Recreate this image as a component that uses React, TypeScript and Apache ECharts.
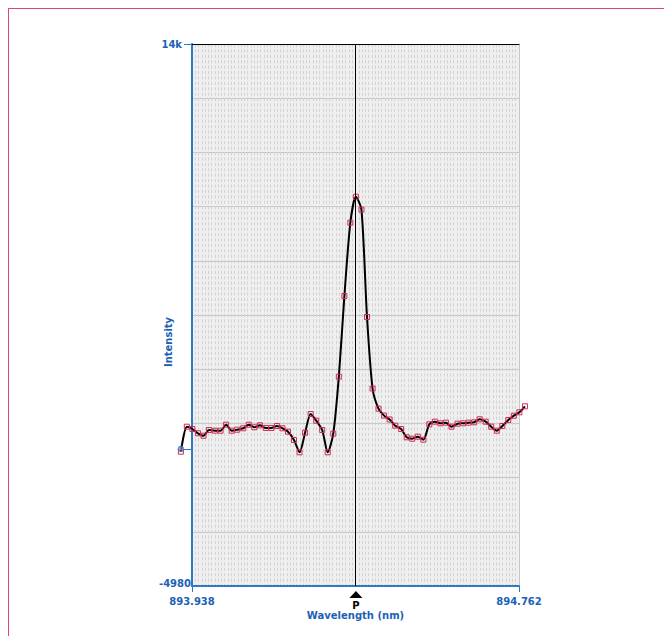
import React, { useEffect, useRef } from "react";
import * as echarts from "echarts";

// Wavelength (nm) of each sample
const wavelengths = [
  893.910, 893.925, 893.939, 893.953, 893.967, 893.981, 893.996, 894.010, 894.024, 894.038,
  894.052, 894.067, 894.081, 894.095, 894.109, 894.124, 894.138, 894.152, 894.166, 894.180,
  894.195, 894.209, 894.223, 894.237, 894.251, 894.266, 894.280, 894.294, 894.308, 894.322,
  894.337, 894.351, 894.365, 894.379, 894.393, 894.408, 894.422, 894.436, 894.450, 894.465,
  894.479, 894.493, 894.507, 894.521, 894.536, 894.550, 894.564, 894.578, 894.592, 894.607,
  894.621, 894.635, 894.649, 894.663, 894.678, 894.692, 894.706, 894.720, 894.735, 894.749,
  894.763, 894.777,
];

// Intensity of each sample
const intensities = [
  -277, 599, 518, 368, 283, 483, 459, 459, 669, 459,
  494, 543, 669, 578, 648, 553, 553, 623, 543, 424,
  133, -298, 389, 1043, 809, 483, -298, 354, 2350, 5175,
  7742, 8653, 8198, 4440, 1936, 1229, 987, 851, 634, 518,
  227, 178, 248, 143, 683, 774, 718, 739, 599, 704,
  718, 739, 753, 858, 774, 599, 459, 623, 833, 984,
  1103, 1313,
];

const xRange = [893.938, 894.762];
const yRange = [-4980, 14000];
const yTickLabels = ["-4980", "14k"];
const peakWavelength = 894.351;
const peakLabel = "P";
const cursorValue = -180;

const BLUE_TEXT = "#1b62b5";
const BLUE_LINE = "#2f78c8";
const FONT = 'Verdana, "DejaVu Sans", sans-serif';

// layout
const GRID_LEFT = 183;
const GRID_TOP = 35;
const GRID_W = 327;
const GRID_H = 542;
const PAD = 24; // overlay grid extends beyond the plot so the curve is not clipped

export default function App() {
  const ref = useRef<HTMLDivElement>(null);

  useEffect(() => {
    if (!ref.current) return;
    const chart = echarts.init(ref.current, null, { renderer: "svg" });
    const seriesData = wavelengths.map((w, i) => [w, intensities[i]]);
    const span = xRange[1] - xRange[0];
    const padValue = (span * PAD) / GRID_W;

    chart.setOption({
      animation: false,
      grid: [
        {
          left: GRID_LEFT,
          top: GRID_TOP,
          width: GRID_W,
          height: GRID_H,
          show: true,
          backgroundColor: "#efefef",
          borderWidth: 0,
        },
        {
          left: GRID_LEFT - PAD,
          top: GRID_TOP,
          width: GRID_W + 2 * PAD,
          height: GRID_H,
          show: false,
        },
      ],
      xAxis: [
        {
          type: "value",
          gridIndex: 0,
          min: xRange[0],
          max: xRange[1],
          position: "bottom",
          axisLine: { show: true, onZero: false, lineStyle: { color: BLUE_LINE, width: 2 } },
          axisTick: {
            show: true,
            customValues: [xRange[0], xRange[1]],
            length: 6,
            lineStyle: { color: BLUE_LINE, width: 1 },
          },
          axisLabel: {
            customValues: [xRange[0], xRange[1]],
            formatter: (v: number) => v.toFixed(3),
            color: BLUE_TEXT,
            fontFamily: FONT,
            fontWeight: "bold",
            fontSize: 10,
            margin: 10,
          },
          splitLine: { show: false },
          name: "Wavelength (nm)",
          nameLocation: "middle",
          nameGap: 24,
          nameMoveOverlap: false,
          nameTextStyle: {
            color: BLUE_TEXT,
            fontFamily: FONT,
            fontWeight: "bold",
            fontSize: 10,
          },
        },
        {
          type: "value",
          gridIndex: 0,
          min: 0,
          max: 100,
          interval: 1,
          position: "top",
          axisLine: { show: true, onZero: false, lineStyle: { color: "#000000", width: 1 } },
          axisTick: { show: false },
          axisLabel: { show: false },
          splitLine: {
            show: true,
            lineStyle: { color: "#d3d3d3", width: 1, type: [3.2, 2.2] },
          },
        },
        {
          type: "value",
          gridIndex: 1,
          min: xRange[0] - padValue,
          max: xRange[1] + padValue,
          show: false,
          axisLine: { onZero: false },
          splitLine: { show: false },
        },
      ],
      yAxis: [
        {
          type: "value",
          gridIndex: 0,
          min: yRange[0],
          max: yRange[1],
          position: "left",
          axisLine: { show: true, onZero: false, lineStyle: { color: BLUE_LINE, width: 2 } },
          axisTick: {
            show: true,
            customValues: [cursorValue, yRange[1]],
            length: 8,
            lineStyle: { color: BLUE_LINE, width: 1 },
          },
          axisLabel: {
            customValues: [yRange[0], yRange[1]],
            formatter: (v: number) =>
              v === yRange[1] ? `{top|${yTickLabels[1]}}` : `{bot|${yTickLabels[0]}}`,
            margin: 1,
            rich: {
              top: {
                color: BLUE_TEXT,
                fontFamily: FONT,
                fontWeight: "bold",
                fontSize: 10,
                padding: [0, 9, 0, 0],
              },
              bot: {
                color: BLUE_TEXT,
                fontFamily: FONT,
                fontWeight: "bold",
                fontSize: 10,
                padding: [0, 0, 6, 0],
              },
            },
          },
          splitLine: { show: false },
          name: "Intensity",
          nameLocation: "middle",
          nameGap: 19,
          nameRotate: 90,
          nameMoveOverlap: false,
          nameTextStyle: {
            color: BLUE_TEXT,
            fontFamily: FONT,
            fontWeight: "bold",
            fontSize: 10,
            padding: [0, 54, 0, 0],
          },
        },
        {
          type: "value",
          gridIndex: 0,
          min: 0,
          max: 10,
          interval: 1,
          position: "right",
          axisLine: { show: true, onZero: false, lineStyle: { color: "#c8c8c8", width: 1 } },
          axisTick: { show: false },
          axisLabel: { show: false },
          splitLine: { show: true, lineStyle: { color: "#c6c6c6", width: 1 } },
        },
        {
          type: "value",
          gridIndex: 1,
          min: yRange[0],
          max: yRange[1],
          show: false,
          axisLine: { onZero: false },
          splitLine: { show: false },
        },
      ],
      series: [
        {
          type: "line",
          xAxisIndex: 2,
          yAxisIndex: 2,
          data: seriesData,
          smooth: 0.25,
          clip: false,
          symbol: "rect",
          symbolSize: 5,
          showAllSymbol: true,
          lineStyle: { color: "#000000", width: 2 },
          itemStyle: { color: "rgba(255,255,255,0)", borderColor: "#d42a52", borderWidth: 1 },
          z: 3,
          markLine: {
            silent: true,
            symbol: "none",
            label: { show: false },
            lineStyle: { color: "#000000", width: 1, type: "solid" },
            data: [{ xAxis: peakWavelength }],
          },
          markPoint: {
            silent: true,
            data: [
              {
                coord: [peakWavelength, yRange[0]],
                symbol: "triangle",
                symbolSize: [13, 7],
                symbolOffset: [0, 8.5],
                itemStyle: { color: "#000000" },
                label: {
                  show: true,
                  formatter: peakLabel,
                  position: "bottom",
                  distance: 2,
                  color: "#000000",
                  fontFamily: FONT,
                  fontWeight: "bold",
                  fontSize: 10,
                },
              },
            ],
          },
        },
        {
          type: "scatter",
          xAxisIndex: 2,
          yAxisIndex: 2,
          clip: false,
          data: [[wavelengths[0], cursorValue]],
          symbol: "circle",
          symbolSize: 5,
          itemStyle: { color: "rgba(200,220,255,0.4)", borderColor: BLUE_LINE, borderWidth: 1.5 },
          z: 4,
        },
      ],
    });

    return () => chart.dispose();
  }, []);

  return (
    <div
      style={{
        width: 656,
        height: 628,
        boxSizing: "border-box",
        borderTop: "1px solid #e0466e",
        borderLeft: "1px solid #e0466e",
        position: "relative",
        overflow: "hidden",
      }}
    >
      <div ref={ref} style={{ width: 655, height: 627 }} />
    </div>
  );
}
